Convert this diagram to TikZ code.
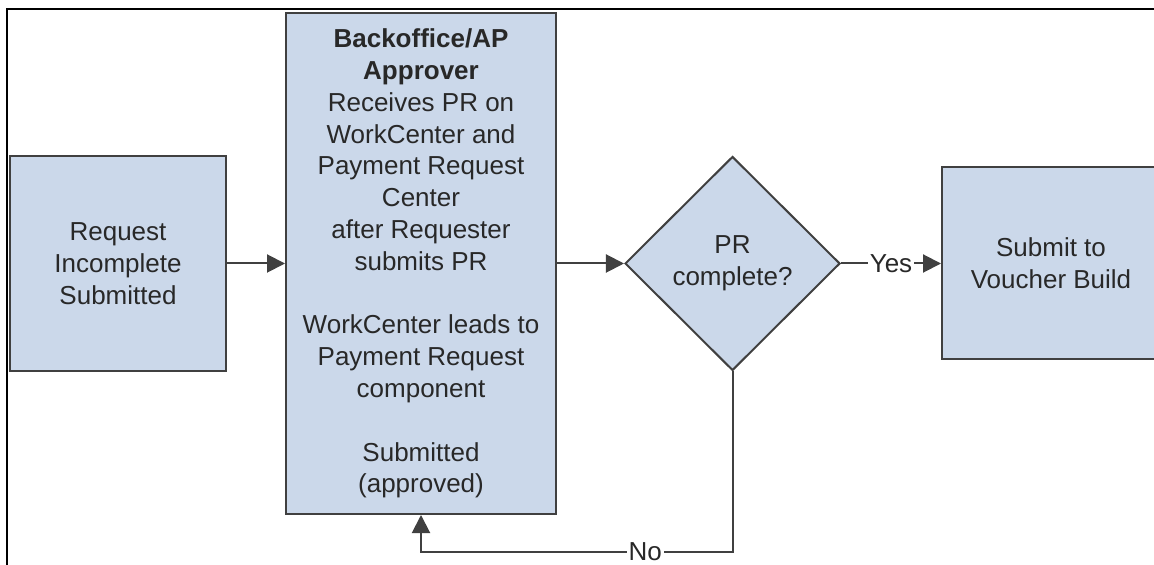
\documentclass[tikz,border=0pt]{standalone}
\usepackage{fontspec}
\setmainfont{Liberation Sans}
\usepackage{tikz}
\usetikzlibrary{arrows.meta, positioning, shapes.geometric}
\definecolor{boxblue}{RGB}{203,216,234}
\definecolor{edgegray}{RGB}{64,64,64}
\definecolor{textgray}{RGB}{40,40,40}

\begin{document}
\begin{tikzpicture}[x=0.5pt, y=-0.5pt,
  stage/.style={rectangle, draw=edgegray, line width=1pt, fill=boxblue,
                text=textgray, font=\fontsize{13pt}{15.9pt}\selectfont,
                align=center, inner sep=0pt},
  decision/.style={diamond, draw=edgegray, line width=1pt, fill=boxblue,
                text=textgray, font=\fontsize{13pt}{15.9pt}\selectfont,
                align=center, inner sep=0pt, minimum width=107.5pt, minimum height=107pt},
  arrow/.style={-{Triangle[length=9pt, width=9pt]}, edgegray, line width=1pt},
  lbl/.style={fill=white, inner sep=1pt, text=textgray,
              font=\fontsize{13pt}{15.9pt}\selectfont}
]
\useasboundingbox (0,0) rectangle (1154,565);
\clip (0,0) rectangle (1154,565);
\draw[black, line width=1pt] (7,565) -- (7,9) -- (1154,9);

\node[stage, minimum width=108pt, minimum height=107.5pt] (req) at (118,263.5)
  {Request\\Incomplete\\Submitted};
\node[stage, minimum width=135pt, minimum height=250.5pt, right=29pt of req] (appr)
  {\textbf{Backoffice/AP}\\\textbf{Approver}\\Receives PR on\\WorkCenter and\\
   Payment Request\\Center\\after Requester\\submits PR\\[15.9pt]
   WorkCenter leads to\\Payment Request\\component\\[15.9pt]
   Submitted\\(approved)};
\node[decision, right=33.5pt of appr] (chk) {PR\\complete?};
\node[stage, minimum width=109pt, minimum height=96pt, right=50pt of chk] (vch)
  {Submit to\\Voucher Build};

\draw[arrow] (req) -- (appr);
\draw[arrow] (appr) -- (chk);
\draw[arrow] (chk) -- node[lbl]{Yes} (vch);
\draw[arrow] (chk.south) -- ++(0,180) -| node[lbl, pos=0.14]{No} (appr.south);
\end{tikzpicture}
\end{document}
